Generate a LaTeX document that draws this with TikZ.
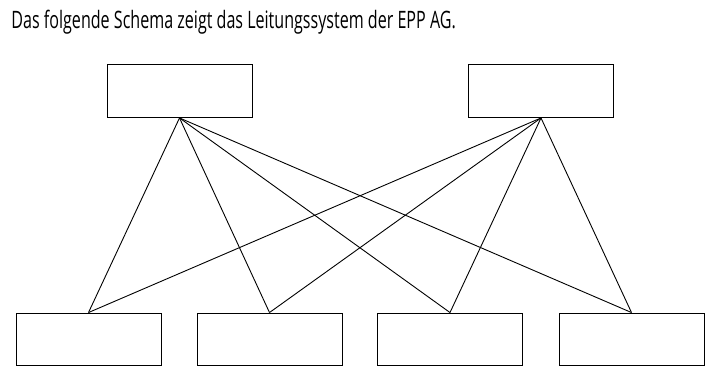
\documentclass[tikz,border=0pt]{standalone}
\usepackage{fontspec}
\setmainfont[FakeStretch=0.67]{Open Sans}
\usepackage{tikz}

\begin{document}
\begin{tikzpicture}[x=1pt, y=-1pt, line width=0.9pt,
		kasten/.style={draw, rectangle, inner sep=0pt, minimum width=145pt, minimum height=53pt}]
		\useasboundingbox (0,0) rectangle (716,385);
		\node[anchor=base west, inner sep=0pt, font=\fontsize{24}{28}\selectfont] (titel) at (11,29)
			{Das folgende Schema zeigt das Leitungssystem der EPP AG.};
		% obere Ebene
		\node[kasten] (O1) at (179.5,91) {};
		\node[kasten] (O2) at (541,91) {};
		% untere Ebene
		\node[kasten, minimum height=52pt] (U1) at (88.5,339) {};
		\node[kasten, minimum height=52pt] (U2) at (269.5,339) {};
		\node[kasten, minimum height=52pt] (U3) at (450,339) {};
		\node[kasten, minimum height=52pt] (U4) at (631.5,339) {};
		% Leitungen
		\foreach \u in {U1,U2,U3,U4} {
			\draw (O1.south) -- (\u.north);
			\draw (O2.south) -- (\u.north);
		}
\end{tikzpicture}
\end{document}
